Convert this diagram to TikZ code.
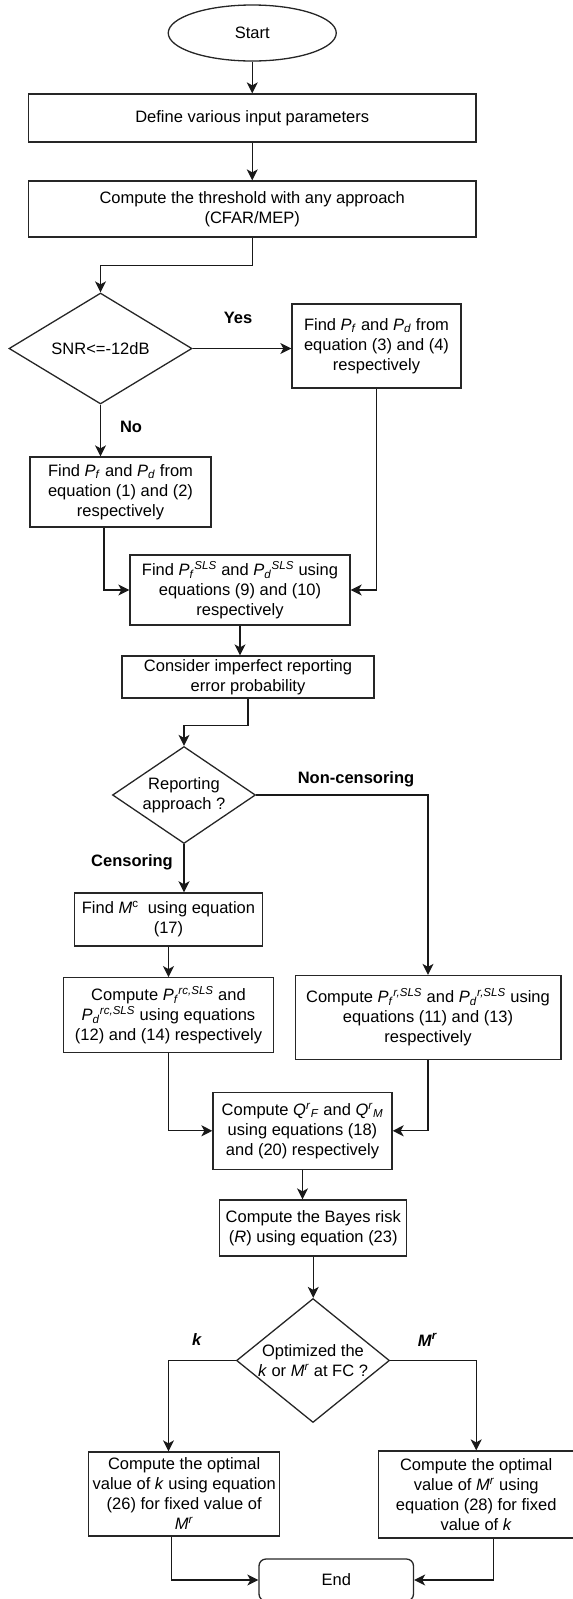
\documentclass[tikz,border=0pt]{standalone}
\usepackage{fontspec}
\setmainfont{Liberation Sans}
\usetikzlibrary{shapes.geometric,arrows.meta}
\newcommand{\fsz}{\fontsize{16.5}{20}\selectfont}
\newcommand{\Pss}[3]{\textit{#1}\textsubscript{\textit{#2}}\textsuperscript{\textit{#3}}}
\newcommand{\Ps}[2]{\textit{#1}\textsubscript{\textit{#2}}}
\newcommand{\Qrs}[1]{\textit{Q}\textsuperscript{\textit{r}}\textsubscript{\textit{#1}}}
\newcommand{\Mr}{\textit{M}\textsuperscript{\textit{r}}}
\tikzset{
  box/.style={draw=black!85, line width=1.3pt, rectangle, inner sep=0pt, align=center, font=\fsz},
  dia/.style={draw=black!85, line width=1.3pt, diamond, inner sep=0pt},
  arr/.style={draw=black!90, line width=1.3pt, -{Stealth[length=11pt,width=11pt,inset=3pt]}},
  lbl/.style={font=\fsz\bfseries, inner sep=0pt},
  txt/.style={font=\fsz, align=center, inner sep=0pt},
}
\begin{document}
\begin{tikzpicture}[x=1pt,y=-1pt]
\useasboundingbox (0,0) rectangle (573,1599);
% nodes
\node[draw=black!85, line width=1.3pt, ellipse, inner sep=0pt, minimum width=168pt, minimum height=56pt, font=\fsz] (start) at (252.25,33) {Start};
\node[box, minimum width=447.5pt, minimum height=48pt] (define) at (252.25,118) {Define various input parameters};
\node[box, minimum width=447.5pt, minimum height=56pt] (thresh) at (252.25,209) {Compute the threshold with any approach\\(CFAR/MEP)};
\node[dia, minimum width=183pt, minimum height=111pt] (snr) at (100.5,348.5) {};
\node[txt] at (snr) {SNR<=-12dB};
\node[box, minimum width=169pt, minimum height=84pt] (yesbox) at (376.5,346) {Find \Ps{P}{f} and \Ps{P}{d} from\\equation (3) and (4)\\respectively};
\node[box, minimum width=181pt, minimum height=70pt] (nobox) at (120.5,492) {Find \Ps{P}{f} and \Ps{P}{d} from\\equation (1) and (2)\\respectively};
\node[box, minimum width=220pt, minimum height=70pt] (sls) at (240,590) {Find \Pss{P}{f}{SLS} and \Pss{P}{d}{SLS} using\\equations (9) and (10)\\respectively};
\node[box, minimum width=252pt, minimum height=42pt] (consider) at (248,677) {Consider imperfect reporting\\error probability};
\node[dia, minimum width=143pt, minimum height=97pt] (report) at (184,795) {};
\node[txt] at (report) {Reporting\\approach ?};
\node[box, minimum width=188pt, minimum height=53pt] (mc) at (168.5,919.4) {Find \textit{M}\textsuperscript{c}\ \ using equation\\(17)};
\node[box, minimum width=210pt, minimum height=74.6pt] (rc) at (168.5,1015) {Compute \Pss{P}{f}{rc,SLS} and\\\Pss{P}{d}{rc,SLS} using equations\\(12) and (14) respectively};
\node[box, minimum width=265.7pt, minimum height=83.8pt] (nc) at (428,1017.4) {Compute \Pss{P}{f}{r,SLS} and \Pss{P}{d}{r,SLS} using\\equations (11) and (13)\\respectively};
\node[box, minimum width=179pt, minimum height=77pt] (q) at (302.5,1130.8) {Compute \Qrs{F} and \Qrs{M}\\using equations (18)\\and (20) respectively};
\node[box, minimum width=187pt, minimum height=56pt] (bayes) at (313.25,1228) {Compute the Bayes risk\\(\textit{R}) using equation (23)};
\node[dia, minimum width=153pt, minimum height=124pt] (fc) at (313,1360.5) {};
\node[txt] at (fc) {Optimized the\\\textit{k} or \Mr{} at FC ?};
\node[box, minimum width=191pt, minimum height=84pt] (kbox) at (184.2,1494) {Compute the optimal\\value of \textit{k} using equation\\(26) for fixed value of\\\Mr};
\node[box, minimum width=196pt, minimum height=87pt] (mbox) at (476.2,1494.5) {Compute the optimal\\value of \Mr{} using\\equation (28) for fixed\\value of \textit{k}};
\node[box, rounded corners=7pt, minimum width=154.5pt, minimum height=42pt] (end) at (336.25,1580) {End};
% labels
\node[lbl] (yes) at (238,318) {Yes};
\node[lbl] (no) at (131,427) {No};
\node[lbl] (noncens) at (356,779) {Non-censoring};
\node[lbl] (cens) at (132,862) {Censoring};
\node[lbl] (klbl) at (197,1340) {\textit{k}};
\node[lbl] (mlbl) at (427.6,1340) {\textit{M}\textsuperscript{\textit{r}}};
% connectors
\draw[arr] (start.south) -- (start.south |- define.north);
\draw[arr] (define.south) -- (define.south |- thresh.north);
\draw[arr] (thresh.south) -- ++(0,28) -| (snr.north);
\draw[arr] (snr.east) -- (snr.east -| yesbox.west);
\draw[arr] (snr.south) -- (snr.south |- nobox.north);
\draw[arr] ([xshift=-16.5pt]nobox.south) |- (sls.west);
\draw[arr] (yesbox.south) |- (sls.east);
\draw[arr] (sls.south) -- (sls.south |- consider.north);
\draw[arr] (consider.south) -- ++(0,27) -| (report.north);
\draw[arr] (report.south) -- (report.south |- mc.north);
\draw[arr] (report.east) -| (nc.north);
\draw[arr] (mc.south) -- (rc.north);
\draw[arr] (rc.south) |- (q.west);
\draw[arr] (nc.south) |- (q.east);
\draw[arr] (q.south) -- (q.south |- bayes.north);
\draw[arr] (bayes.south) -- (bayes.south |- fc.north);
\draw[arr] (fc.west) -| ([xshift=-15.7pt]kbox.north);
\draw[arr] (fc.east) -| (mbox.north);
\draw[arr] ([xshift=-13pt]kbox.south) |- (end.west);
\draw[arr] ([xshift=17pt]mbox.south) |- (end.east);
\end{tikzpicture}
\end{document}
